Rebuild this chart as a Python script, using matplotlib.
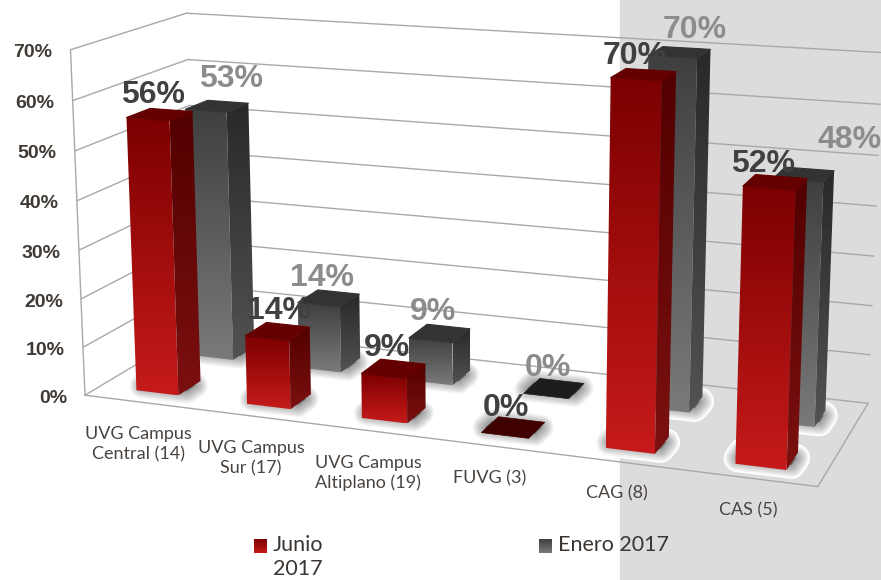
import numpy as np
import matplotlib
matplotlib.use("Agg")
import matplotlib.pyplot as plt
from matplotlib.colors import LinearSegmentedColormap
from matplotlib.patches import Polygon, Rectangle

categories = ["UVG Campus\nCentral (14)", "UVG Campus\nSur (17)", "UVG Campus\nAltiplano (19)",
              "FUVG (3)", "CAG (8)", "CAS (5)"]
junio = [56, 14, 9, 0, 70, 52]
enero = [53, 14, 9, 0, 70, 48]
ticks = [0, 10, 20, 30, 40, 50, 60, 70]
legend_names = ["Junio\n2017", "Enero 2017"]

# nudges of the value labels in pixels
junio_dx = [5, 12, 3, 1, -1, -6]
junio_dy = [-24, -27, -28, -27, -23, -24]
enero_dx = [3, -17, -15, -14, 8, 40]
enero_dy = [-23, -14, -15, -13, -18, -29]

W, H = 881, 580
VMAX = 70.0

# corners of the 3d frame as seen in the picture, the camera is fitted on them
world = np.array([[0, 0, 0], [1, 0, 0], [0, 1, 0], [1, 1, 0],
                  [0, 0, 1], [1, 0, 1], [0, 1, 1], [1, 1, 1]], dtype=float)
screen = np.array([[86, 396], [818, 487], [195, 328], [868, 403],
                   [70, 50], [831, 97], [187, 13], [883, 54]], dtype=float)


def fit_camera(w, s):
    rows = []
    for (x, y, z), (a, b) in zip(w, s):
        rows.append([x, y, z, 1, 0, 0, 0, 0, -a * x, -a * y, -a * z, -a])
        rows.append([0, 0, 0, 0, x, y, z, 1, -b * x, -b * y, -b * z, -b])
    return np.linalg.svd(np.array(rows))[2][-1].reshape(3, 4)


cam = fit_camera(world, screen)


def project(u, d, v):
    p = cam @ np.array([u, d, v / VMAX, 1.0])
    return p[0] / p[2], p[1] / p[2]


fig = plt.figure(figsize=(W / 100, H / 100), dpi=100)
ax = fig.add_axes([0, 0, 1, 1])
ax.set_xlim(0, W)
ax.set_ylim(H, 0)
ax.axis("off")
ax.add_patch(Rectangle((620, 0), W - 620, H, color="#dcdcdc", zorder=0))

GRID = "#a8a8a8"


def line(a, b, z=1):
    ax.plot([a[0], b[0]], [a[1], b[1]], color=GRID, lw=1.0, zorder=z, solid_capstyle="round")


for t in ticks:
    line(project(0, 0, t), project(0, 1, t))
    line(project(0, 1, t), project(1, 1, t))
    x, y = project(0, 0, t)
    ax.text(x - 18, y + 3, "%d%%" % t, ha="right", va="center", family="Liberation Sans",
            weight="bold", fontsize=14, color="#403a35", zorder=6)
line(project(0, 0, 0), project(0, 0, VMAX))
line(project(0, 0, 0), project(1, 0, 0))
line(project(1, 0, 0), project(1, 1, 0))


def gradient_face(pts, top, bottom, z):
    poly = Polygon(pts, closed=True, facecolor="none", edgecolor="none", zorder=z)
    ax.add_patch(poly)
    xs, ys = zip(*pts)
    cmap = LinearSegmentedColormap.from_list("f", [top, bottom])
    im = ax.imshow(np.linspace(0, 1, 256)[:, None], cmap=cmap, aspect="auto", origin="upper",
                   extent=(min(xs), max(xs), max(ys), min(ys)), zorder=z, interpolation="bilinear")
    im.set_clip_path(poly)
    ax.set_xlim(0, W)
    ax.set_ylim(H, 0)


BAR_W = 0.064
U_SHIFT = 0.004
RED_D = (0.13, 0.33)
GRAY_D = (0.64, 0.85)


def footprint(i, depth, grow_u=0.0, grow_d=0.0):
    c = (i + 0.5) / len(categories) + U_SHIFT
    u0, u1 = c - BAR_W / 2 - grow_u, c + BAR_W / 2 + grow_u
    d0, d1 = depth[0] - grow_d, depth[1] + grow_d
    return u0, u1, d0, d1


def ground(i, depth, grow_u=0.0, grow_d=0.0):
    u0, u1, d0, d1 = footprint(i, depth, grow_u, grow_d)
    return [project(u0, d0, 0), project(u1, d0, 0), project(u1, d1, 0), project(u0, d1, 0)]


def shadow(i, depth):
    pts = ground(i, depth, 0.002, -0.06)
    ax.add_patch(Polygon(pts, closed=True, facecolor="white", edgecolor="white", lw=20,
                         joinstyle="round", zorder=1.5))
    for k in range(12):
        ax.add_patch(Polygon(pts, closed=True, facecolor="black", edgecolor="black", alpha=0.035,
                             lw=18 - 1.5 * k, joinstyle="round", zorder=1.6))


def bar(i, value, depth, front, side, top, flat, z):
    u0, u1, d0, d1 = footprint(i, depth)
    if value == 0:
        ax.add_patch(Polygon(ground(i, depth), closed=True, facecolor=flat, edgecolor=flat, lw=0.5, zorder=z))
        return
    gradient_face([project(u0, d0, value), project(u1, d0, value), project(u1, d0, 0), project(u0, d0, 0)],
                  front[0], front[1], z)
    gradient_face([project(u1, d0, value), project(u1, d1, value), project(u1, d1, 0), project(u1, d0, 0)],
                  side[0], side[1], z)
    pts = [project(u0, d0, value), project(u1, d0, value), project(u1, d1, value), project(u0, d1, value)]
    ax.add_patch(Polygon(pts, closed=True, facecolor=top, edgecolor=top, lw=0.8,
                         joinstyle="round", zorder=z + 0.01))


for i in range(len(categories)):
    shadow(i, GRAY_D)
    shadow(i, RED_D)
for i, v in enumerate(enero):
    bar(i, v, GRAY_D, ("#3f3f3f", "#7a7a7a"), ("#292929", "#525252"), "#333333", "#1c1c1c", 2)
for i, v in enumerate(junio):
    bar(i, v, RED_D, ("#7c0000", "#c61a1a"), ("#520000", "#7c1010"), "#640000", "#3f0000", 3)

for i, v in enumerate(junio):
    u0, u1, d0, d1 = footprint(i, RED_D)
    x, y = project((u0 + u1) / 2, d0, v)
    ax.text(x + junio_dx[i], y + junio_dy[i], "%d%%" % v, ha="center", va="center", family="Liberation Sans",
            weight="bold", fontsize=23, color="#404040", zorder=5)
for i, v in enumerate(enero):
    u0, u1, d0, d1 = footprint(i, GRAY_D)
    x, y = project((u0 + u1) / 2, d1, v)
    ax.text(x + enero_dx[i], y + enero_dy[i], "%d%%" % v, ha="center", va="center", family="Liberation Sans",
            weight="bold", fontsize=23, color="#8c8c8c", zorder=4)

for i, name in enumerate(categories):
    x, y = project((i + 0.5) / len(categories), 0, 0)
    ax.text(x - 1, y + 24, name, ha="center", va="top", family="Lato", fontsize=13,
            color="#4a4440", linespacing=1.3, zorder=6)

# legend
swatches = [(254, ("#7c0000", "#c61a1a")), (539, ("#3f3f3f", "#7a7a7a"))]
for (x0, cols), name in zip(swatches, legend_names):
    gradient_face([(x0, 539), (x0 + 13, 539), (x0 + 13, 553), (x0, 553)], cols[0], cols[1], 6)
    ax.text(x0 + 19, 535, name, ha="left", va="top", family="Lato", fontsize=15.5,
            color="#3c3632", linespacing=1.25, zorder=6)

fig.savefig("out.png", dpi=100)
